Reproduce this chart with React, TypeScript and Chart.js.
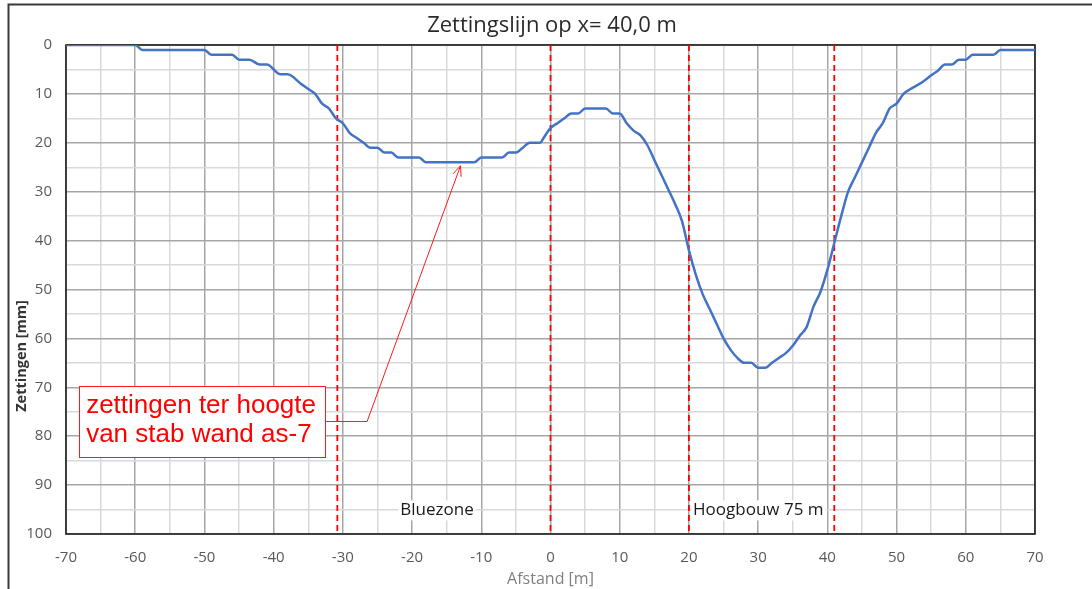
import React, { useEffect, useRef } from 'react';
import { Chart, registerables } from 'chart.js';

Chart.register(...registerables);

// ---- data ----
const distance = [
  -70, -60, -59, -50, -49, -46, -45, -43.5, -42, -41, -39, -38, -36, -35, -34, -33, -32, -31, -30, -29,
  -28, -27, -26, -25, -24, -23, -22, -19, -18, -11, -10, -7, -6, -5, -4, -3, -1.5, -1, 0, 1,
  2, 3, 4, 5, 8, 9, 10, 11, 12, 13, 14, 15, 16, 17, 18, 19, 20, 21, 22, 23,
  24, 25, 26, 27, 28, 29, 30, 31, 32, 33, 34, 35, 36, 37, 38, 39, 40, 41, 42, 43,
  44, 45, 46, 47, 48, 49, 50, 51, 52, 53, 54, 55, 56, 57, 58, 59, 60, 61, 64, 65, 70,
];
const settlement = [
  0, 0, 1, 1, 2, 2, 3, 3, 4, 4, 6, 6, 8, 9, 10, 12, 13, 15, 16, 18,
  19, 20, 21, 21, 22, 22, 23, 23, 24, 24, 23, 23, 22, 22, 21, 20, 20, 19, 17, 16,
  15, 14, 14, 13, 13, 14, 14, 16, 17.5, 18.5, 20.5, 23.5, 26.5, 29.5, 32.5, 36, 42, 47, 51, 54,
  57, 60, 62.3, 64, 65, 65, 66, 66, 65, 64, 63, 61.5, 59.5, 57.7, 53.5, 50.5, 46, 40.5, 35, 30,
  27, 24, 21, 18, 16, 13, 12, 10, 9, 8.2, 7.3, 6.2, 5.2, 4, 4, 3, 3, 2, 2, 1, 1,
];
const markerLines = [-30.8, 0, 20, 41];
const xTicks = { min: -70, max: 70, step: 5, labelStep: 10 };
const yTicks = { min: 0, max: 100, step: 5, labelStep: 10 };
const titleText = 'Zettingslijn op x= 40,0 m';
const xTitle = 'Afstand [m]';
const yTitle = 'Zettingen [mm]';
const zoneLabels = ['Bluezone', 'Hoogbouw 75 m'];
const zoneLabelX = [-21.7, 20.6];
const zoneLabelY = 96.2;
const noteLines = ['zettingen ter hoogte', 'van stab wand as-7'];
// annotation anchor points in data units
const noteBox = { x0: -68.1, y0: 69.8, x1: -32.5, y1: 84.3 };
const noteElbow = { x: -26.5, y: 77 };
const noteTip = { x: -13, y: 24.7 };

const FONT = "'Open Sans', 'Noto Sans', sans-serif";

const overlay = {
  id: 'overlay',
  beforeDatasetsDraw(chart: any) {
    const { ctx, chartArea: a } = chart;
    ctx.save();
    ctx.strokeStyle = '#1f1f1f';
    ctx.lineWidth = 1.6;
    ctx.strokeRect(a.left, a.top, a.right - a.left, a.bottom - a.top);
    ctx.restore();
  },
  afterDraw(chart: any) {
    const { ctx, chartArea: a, scales } = chart;
    const xs = scales.x;
    const ys = scales.y;
    ctx.save();

    // outer frame
    ctx.strokeStyle = '#3a3a3a';
    ctx.lineWidth = 2;
    ctx.beginPath();
    ctx.moveTo(8.5, chart.height);
    ctx.lineTo(8.5, 4.5);
    ctx.lineTo(chart.width, 4.5);
    ctx.stroke();

    // title
    ctx.fillStyle = '#2b2b2b';
    ctx.font = `22px ${FONT}`;
    ctx.textAlign = 'center';
    ctx.textBaseline = 'alphabetic';
    ctx.fillText(titleText, 552, 31.5);

    // x title
    ctx.fillStyle = '#808080';
    ctx.font = `16px ${FONT}`;
    ctx.fillText(xTitle, (a.left + a.right) / 2, 584);

    // y title
    ctx.save();
    ctx.translate(26, 356);
    ctx.rotate(-Math.PI / 2);
    ctx.fillStyle = '#333333';
    ctx.font = `bold 14.5px ${FONT}`;
    ctx.textAlign = 'center';
    ctx.textBaseline = 'alphabetic';
    ctx.fillText(yTitle, 0, 0);
    ctx.restore();

    // zone labels
    ctx.font = `17px ${FONT}`;
    ctx.textAlign = 'left';
    ctx.textBaseline = 'alphabetic';
    zoneLabels.forEach((t, i) => {
      const px = xs.getPixelForValue(zoneLabelX[i]);
      const py = ys.getPixelForValue(zoneLabelY);
      const w = ctx.measureText(t).width;
      ctx.fillStyle = '#ffffff';
      ctx.fillRect(px - 2, py - 15, w + 4, 20);
      ctx.fillStyle = '#1a1a1a';
      ctx.fillText(t, px, py);
    });

    // note box
    const bx0 = xs.getPixelForValue(noteBox.x0);
    const by0 = ys.getPixelForValue(noteBox.y0);
    const bx1 = xs.getPixelForValue(noteBox.x1);
    const by1 = ys.getPixelForValue(noteBox.y1);
    const ex = xs.getPixelForValue(noteElbow.x);
    const ey = ys.getPixelForValue(noteElbow.y);
    const tx = xs.getPixelForValue(noteTip.x);
    const ty = ys.getPixelForValue(noteTip.y);

    ctx.strokeStyle = '#ff1a1a';
    ctx.lineWidth = 1;
    ctx.beginPath();
    ctx.moveTo(bx1, ey);
    ctx.lineTo(ex, ey);
    ctx.lineTo(tx, ty);
    ctx.stroke();
    // arrowhead
    const ang = Math.atan2(ey - ty, ex - tx);
    const len = 11;
    ctx.beginPath();
    ctx.moveTo(tx + len * Math.cos(ang + 0.4), ty + len * Math.sin(ang + 0.4));
    ctx.lineTo(tx, ty);
    ctx.lineTo(tx + len * Math.cos(ang - 0.4), ty + len * Math.sin(ang - 0.4));
    ctx.stroke();

    ctx.fillStyle = '#ffffff';
    ctx.fillRect(bx0, by0, bx1 - bx0, by1 - by0);
    ctx.strokeRect(Math.round(bx0) + 0.5, Math.round(by0) + 0.5, Math.round(bx1 - bx0), Math.round(by1 - by0));

    ctx.fillStyle = '#ff0000';
    ctx.font = "26px 'Liberation Sans', Arial, sans-serif";
    ctx.textAlign = 'left';
    noteLines.forEach((t, i) => {
      ctx.fillText(t, bx0 + 7, by0 + 27 + i * 28.3);
    });

    ctx.restore();
  },
};

const gridColor = (major: number) => (c: any) =>
  c.tick && Math.abs(c.tick.value % major) < 1e-6 ? '#a6a6a6' : '#d9d9d9';

export default function App() {
  const ref = useRef<HTMLCanvasElement>(null);

  useEffect(() => {
    document.body.style.margin = '0';
    const canvas = ref.current!;
    const datasets: any[] = [
      {
        label: 'Zettingslijn',
        data: distance.map((x, i) => ({ x, y: settlement[i] })),
        borderColor: '#4472c4',
        borderWidth: 2.5,
        pointRadius: 0,
        cubicInterpolationMode: 'monotone',
        fill: false,
      },
      ...markerLines.map((v) => ({
        label: `lijn ${v}`,
        data: [
          { x: v, y: yTicks.min },
          { x: v, y: yTicks.max },
        ],
        borderColor: '#ff0000',
        borderWidth: 1.8,
        borderDash: [6, 4],
        pointRadius: 0,
        fill: false,
      })),
    ];

    const chart = new Chart(canvas, {
      type: 'line',
      data: { datasets },
      plugins: [overlay],
      options: {
        responsive: false,
        animation: false,
        events: [],
        layout: { padding: { top: 45, right: 57, left: 0, bottom: 0 } },
        plugins: {
          legend: { display: false },
          tooltip: { enabled: false },
          title: { display: false },
        },
        scales: {
          x: {
            type: 'linear',
            min: xTicks.min,
            max: xTicks.max,
            border: { display: false },
            grid: { color: gridColor(xTicks.labelStep), lineWidth: 1.5, drawTicks: false },
            ticks: {
              stepSize: xTicks.step,
              autoSkip: false,
              maxRotation: 0,
              padding: 15,
              color: '#595959',
              font: { family: FONT, size: 15 },
              callback: (v: any) => (Math.abs(v % xTicks.labelStep) < 1e-6 ? String(v) : ''),
            },
            afterFit: (s: any) => {
              s.height = 55;
              s.paddingLeft = 0;
              s.paddingRight = 0;
              s.paddingTop = 0;
              s.paddingBottom = 0;
            },
          },
          y: {
            type: 'linear',
            reverse: true,
            min: yTicks.min,
            max: yTicks.max,
            border: { display: false },
            grid: { color: gridColor(yTicks.labelStep), lineWidth: 1.5, drawTicks: false },
            ticks: {
              stepSize: yTicks.step,
              autoSkip: false,
              padding: 14,
              color: '#595959',
              font: { family: FONT, size: 15 },
              callback: (v: any) => (Math.abs(v % yTicks.labelStep) < 1e-6 ? String(v) : ''),
            },
            afterFit: (s: any) => {
              s.width = 66;
              s.paddingLeft = 0;
              s.paddingRight = 0;
              s.paddingTop = 0;
              s.paddingBottom = 0;
            },
          },
        },
      } as any,
    });
    return () => chart.destroy();
  }, []);

  return (
    <div style={{ width: 1092, height: 589, background: '#ffffff' }}>
      <canvas ref={ref} width={1092} height={589} style={{ display: 'block', width: 1092, height: 589 }} />
    </div>
  );
}
